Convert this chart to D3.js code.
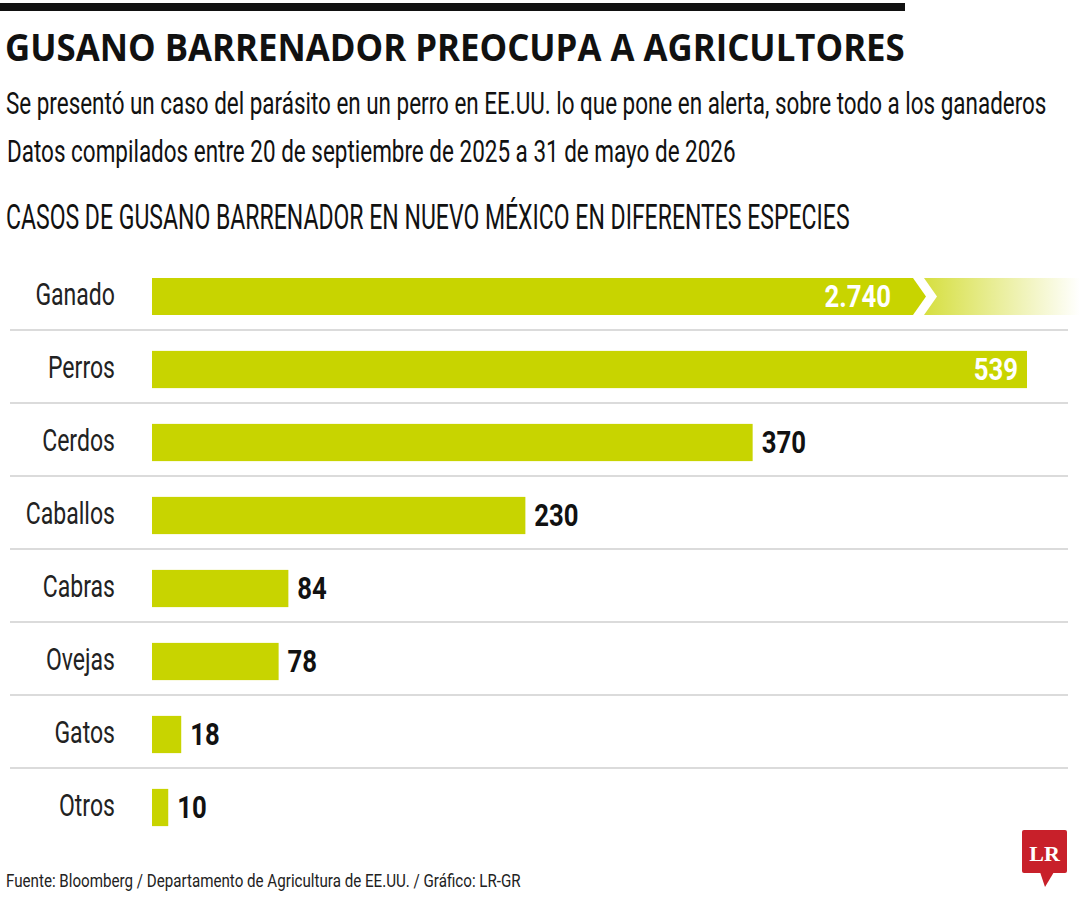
<!DOCTYPE html>
<html>
<head>
<meta charset="utf-8">
<script src="https://cdn.jsdelivr.net/npm/d3@7"></script>
<style>
  body { margin: 0; background: #fff; }
  svg text { font-family: Roboto, "Noto Sans", sans-serif; }
</style>
</head>
<body>
<div id="chart"></div>
<script>
    // data
    const categories = ["Ganado", "Perros", "Cerdos", "Caballos", "Cabras", "Ovejas", "Gatos", "Otros"];
    const cases = [2740, 539, 370, 230, 84, 78, 18, 10];
    const brokenCategory = "Ganado";

    const width = 1080, height = 900;
    const green = "#c8d400";
    const barLeft = 152, barRight = 1027;   // Perros (largest unbroken) ends at barRight
    const breakX = 913;                      // where the broken Ganado bar is cut

    const esLocale = d3.formatLocale({ decimal: ",", thousands: ".", grouping: [3], currency: ["", " $"] });
    const fmt = esLocale.format(",d");

    // squeeze text horizontally (the original uses a condensed face)
    function squeeze(sel, factor) {
        sel.each(function() {
            const x = +this.getAttribute("x"), y = +this.getAttribute("y");
            d3.select(this).attr("transform", `translate(${x},${y}) scale(${factor},1) translate(${-x},${-y})`);
        });
    }
    function fitWidth(sel, target) {
        sel.each(function() {
            squeeze(d3.select(this), target / this.getComputedTextLength());
        });
    }

    const svg = d3.select("#chart")
        .append("svg")
        .attr("width", width)
        .attr("height", height);

    // top rule
    svg.append("rect")
        .attr("x", 0).attr("y", 3)
        .attr("width", 905).attr("height", 8)
        .attr("fill", "#111");

    svg.append("text")
        .attr("x", 5).attr("y", 61)
        .style("font-family", "'Open Sans', 'Liberation Sans', sans-serif")
        .style("font-weight", 700)
        .style("font-size", "37px")
        .attr("fill", "#111")
        .text("GUSANO BARRENADOR PREOCUPA A AGRICULTORES")
        .call(fitWidth, 900);

    svg.append("text")
        .attr("x", 6).attr("y", 114)
        .style("font-size", "31px")
        .attr("fill", "#111")
        .text("Se presentó un caso del parásito en un perro en EE.UU. lo que pone en alerta, sobre todo a los ganaderos")
        .call(fitWidth, 1041);

    svg.append("text")
        .attr("x", 7).attr("y", 162)
        .style("font-size", "31px")
        .attr("fill", "#111")
        .text("Datos compilados entre 20 de septiembre de 2025 a 31 de mayo de 2026")
        .call(fitWidth, 729);

    svg.append("text")
        .attr("x", 6).attr("y", 229)
        .style("font-size", "35px")
        .attr("fill", "#111")
        .text("CASOS DE GUSANO BARRENADOR EN NUEVO MÉXICO EN DIFERENTES ESPECIES")
        .call(fitWidth, 844);

    // scales
    const rows = categories.map((c, i) => ({ cat: c, value: cases[i] }));
    const shownMax = d3.max(rows.filter(d => d.cat !== brokenCategory), d => d.value);

    const x = d3.scaleLinear()
        .domain([0, shownMax])
        .range([barLeft, barRight]);

    const y = d3.scaleBand()
        .domain(categories)
        .range([260, 844])
        .paddingInner(0.49)
        .paddingOuter(0.245);

    const bw = y.bandwidth();

    // separators
    svg.append("g")
        .selectAll("line")
        .data(categories.slice(0, -1))
        .join("line")
        .attr("x1", 10).attr("x2", 1068)
        .attr("y1", d => y(d) + bw + 15)
        .attr("y2", d => y(d) + bw + 15)
        .attr("stroke", "#cfcfcf")
        .attr("stroke-width", 1.5);

    // category labels
    svg.append("g")
        .selectAll("text")
        .data(rows)
        .join("text")
        .attr("x", 115)
        .attr("y", d => y(d.cat) + bw / 2 + 9)
        .attr("text-anchor", "end")
        .style("font-size", "32px")
        .attr("fill", "#222")
        .text(d => d.cat)
        .call(squeeze, 0.72);

    // regular bars
    const normal = rows.filter(d => d.cat !== brokenCategory);
    svg.append("g")
        .selectAll("rect")
        .data(normal)
        .join("rect")
        .attr("x", x(0))
        .attr("y", d => y(d.cat))
        .attr("width", d => x(d.value) - x(0))
        .attr("height", bw)
        .attr("fill", green);

    // broken bar
    const defs = svg.append("defs");
    const grad = defs.append("linearGradient")
        .attr("id", "fade")
        .attr("x1", "0%").attr("x2", "100%");
    grad.append("stop").attr("offset", "0%").attr("stop-color", green).attr("stop-opacity", 0.75);
    grad.append("stop").attr("offset", "100%").attr("stop-color", green).attr("stop-opacity", 0);

    const b = rows.find(d => d.cat === brokenCategory);
    const by = y(b.cat), notch = 13, gap = 11;
    svg.append("path")
        .attr("d", `M${x(0)},${by}H${breakX}L${breakX + notch},${by + bw / 2}L${breakX},${by + bw}H${x(0)}Z`)
        .attr("fill", green);
    svg.append("path")
        .attr("d", `M${breakX + gap},${by}H${width}V${by + bw}H${breakX + gap}L${breakX + gap + notch},${by + bw / 2}Z`)
        .attr("fill", "url(#fade)");

    // value labels
    const inside = d => d.cat === brokenCategory || d.value === shownMax;
    svg.append("g")
        .selectAll("text")
        .data(rows)
        .join("text")
        .attr("x", d => {
            if (d.cat === brokenCategory) return breakX - 22;
            return inside(d) ? x(d.value) - 9 : x(d.value) + 9;
        })
        .attr("y", d => y(d.cat) + bw / 2 + 11)
        .attr("text-anchor", d => inside(d) ? "end" : "start")
        .style("font-size", "31px")
        .style("font-weight", 700)
        .attr("fill", d => inside(d) ? "#fff" : "#111")
        .text(d => fmt(d.value))
        .call(squeeze, 0.83);

    // footer
    svg.append("text")
        .attr("x", 6).attr("y", 887)
        .style("font-size", "19px")
        .attr("fill", "#222")
        .text("Fuente: Bloomberg / Departamento de Agricultura de EE.UU. / Gráfico: LR-GR")
        .call(fitWidth, 515);

    // LR logo
    const logo = svg.append("g");
    logo.append("rect")
        .attr("x", 1022).attr("y", 830)
        .attr("width", 45).attr("height", 43)
        .attr("rx", 2)
        .attr("fill", "#c8202a");
    logo.append("path")
        .attr("d", "M1040,872L1054,872L1045,887Z")
        .attr("fill", "#c8202a");
    logo.append("text")
        .attr("x", 1044.5).attr("y", 861)
        .attr("text-anchor", "middle")
        .style("font-family", "'Liberation Serif', 'DejaVu Serif', serif")
        .style("font-weight", 700)
        .style("font-size", "22px")
        .attr("fill", "#fff")
        .text("LR");
</script>
</body>
</html>
